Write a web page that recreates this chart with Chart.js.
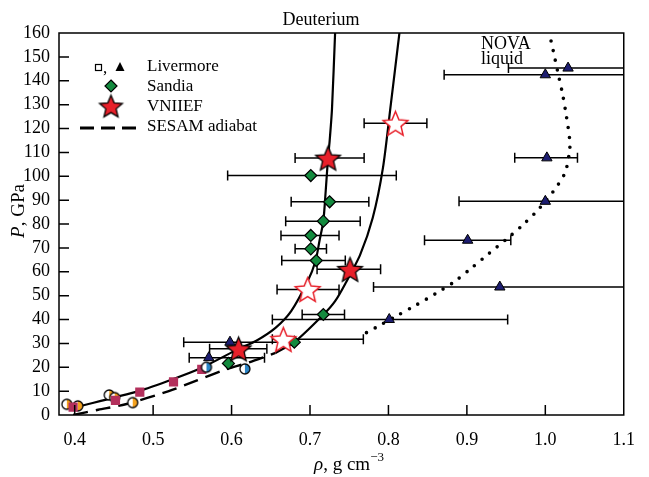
<!DOCTYPE html>
<html><head><meta charset="utf-8">
<script src="https://cdn.jsdelivr.net/npm/chart.js@4"></script>
<style>html,body{margin:0;padding:0;background:#fff}#wrap{width:649px;height:477px}</style>
</head><body><div id="wrap"><canvas id="c"></canvas></div>
<script>
const FONT = '"Liberation Serif", "DejaVu Serif", serif';

// axis ticks
const xTicks = [0.4, 0.5, 0.6, 0.7, 0.8, 0.9, 1.0, 1.1];

// Livermore (triangles): density, pressure, error bar low / high
const livRho = [1.029, 1.0, 1.002, 1.0, 0.901, 0.942, 0.801, 0.598, 0.571];
const livP   = [145.3, 142.5, 107.7, 89.5, 73.2, 53.6, 40.0, 30.5, 24.0];
const livLo  = [0.953, 0.871, 0.961, 0.890, 0.846, 0.781, 0.652, 0.539, 0.546];
const livHi  = [1.150, 1.150, 1.041, 1.150, 0.956, 1.150, 0.952, 0.659, 0.642];

// Sandia (diamonds)
const sanRho = [0.701, 0.725, 0.717, 0.701, 0.701, 0.708, 0.717, 0.680, 0.596];
const sanP   = [100.3, 89.3, 81.2, 75.2, 69.6, 64.7, 42.1, 30.5, 21.6];
const sanLo  = [0.595, 0.676, 0.669, 0.663, 0.681, 0.664, 0.690, null, null];
const sanHi  = [0.810, 0.775, 0.764, 0.737, 0.721, 0.745, 0.744, null, null];

// VNIIEF filled stars
const vnRho = [0.723, 0.751, 0.609];
const vnP   = [107.6, 61.0, 27.7];
const vnLo  = [0.681, 0.709, 0.572];
const vnHi  = [0.769, 0.790, 0.645];

// VNIIEF open stars
const voRho = [0.809, 0.697, 0.666];
const voP   = [122.2, 52.6, 31.7];
const voLo  = [0.769, 0.658, 0.652];
const voHi  = [0.849, 0.737, 0.768];

// low pressure data
const sqRho = [0.398, 0.452, 0.483, 0.526, 0.562];
const sqP   = [3.3, 6.1, 9.6, 13.9, 19.1];
const orRho = [0.390, 0.404, 0.444, 0.451, 0.474];
const orP   = [4.5, 3.8, 8.4, 7.3, 5.2];
const blRho = [0.568, 0.617];
const blP   = [20.0, 19.3];

// curves
const c1Rho = [0.400, 0.481, 0.525, 0.562, 0.609, 0.631, 0.656, 0.676, 0.697, 0.707, 0.712, 0.717, 0.720, 0.723, 0.725, 0.728, 0.732];
const c1P   = [3.1, 10.0, 15.0, 19.8, 27.7, 31.0, 36.5, 43.5, 56.0, 64.4, 72.8, 81.2, 93.7, 107.7, 114.6, 128.0, 160.0];
const c2Rho = [0.656, 0.680, 0.717, 0.732, 0.745, 0.764, 0.780, 0.793, 0.803, 0.814];
const c2P   = [26.0, 30.5, 42.0, 47.7, 55.0, 67.2, 82.6, 103.5, 130.0, 160.0];
const sesRho = [0.398, 0.430, 0.465, 0.520, 0.556, 0.590, 0.622, 0.656];
const sesP   = [0.0, 2.2, 4.5, 10.0, 14.5, 18.8, 22.0, 26.0];
const novaRho = [0.772, 0.786, 0.810, 0.835, 0.860, 0.884, 0.906, 0.928, 0.950, 0.972, 0.992, 1.010, 1.025, 1.031, 1.031, 1.027, 1.022, 1.016, 1.010, 1.005];
const novaP   = [34.5, 37.0, 41.4, 46.0, 50.8, 55.8, 61.6, 67.6, 73.5, 79.8, 86.4, 93.6, 101.4, 110.8, 115.5, 124.9, 134.4, 143.5, 152.7, 160.0];

const pts = (xs, ys) => xs.map((x, i) => ({x: x, y: ys[i]}));

function starImg(r, fill, stroke, lw) {
  const c = document.createElement('canvas');
  const s = Math.ceil(2 * r + lw * 2 + 4);
  c.width = s; c.height = s;
  const g = c.getContext('2d');
  g.translate(s / 2, s / 2 + r * 0.1);
  g.beginPath();
  for (let i = 0; i < 10; i++) {
    const rr = i % 2 ? r * 0.45 : r;
    const a = -Math.PI / 2 + i * Math.PI / 5;
    g.lineTo(rr * Math.cos(a), rr * Math.sin(a));
  }
  g.closePath();
  g.fillStyle = fill; g.fill();
  g.lineWidth = lw; g.strokeStyle = stroke; g.stroke();
  return c;
}
function halfImg(r, col) {
  const c = document.createElement('canvas');
  const s = Math.ceil(2 * r + 4);
  c.width = s; c.height = s;
  const g = c.getContext('2d');
  g.translate(s / 2, s / 2);
  g.beginPath(); g.arc(0, 0, r, 0, Math.PI * 2); g.fillStyle = '#fff'; g.fill();
  g.beginPath(); g.moveTo(0, -r); g.arc(0, 0, r, -Math.PI / 2, Math.PI / 2); g.closePath(); g.fillStyle = col; g.fill();
  g.beginPath(); g.arc(0, 0, r, 0, Math.PI * 2); g.lineWidth = 1.3; g.strokeStyle = '#000'; g.stroke();
  return c;
}
const starRed = starImg(13, '#e8202a', '#000', 1.3);
const starOpen = starImg(13, '#fff', '#e8202a', 1.5);
const starLeg = starImg(12, '#e8202a', '#000', 1.3);
const halfOr = halfImg(5, '#f5a21e');
const halfBl = halfImg(5, '#2b86c8');

const errSets = [
  [livRho, livP, livLo, livHi], [sanRho, sanP, sanLo, sanHi],
  [vnRho, vnP, vnLo, vnHi], [voRho, voP, voLo, voHi]
];

const decor = {
  id: 'decor',
  beforeDatasetsDraw(chart) {
    const {ctx, chartArea: a, scales: {x, y}} = chart;
    ctx.save();
    ctx.beginPath(); ctx.rect(a.left, a.top, a.right - a.left, a.bottom - a.top); ctx.clip();
    ctx.strokeStyle = '#000'; ctx.lineWidth = 1.5;
    for (const [xs, ys, lo, hi] of errSets) {
      xs.forEach((v, i) => {
        if (lo[i] == null) return;
        const py = y.getPixelForValue(ys[i]);
        const p0 = x.getPixelForValue(lo[i]), p1 = x.getPixelForValue(hi[i]);
        ctx.beginPath();
        ctx.moveTo(p0, py); ctx.lineTo(p1, py);
        ctx.moveTo(p0, py - 5); ctx.lineTo(p0, py + 5);
        ctx.moveTo(p1, py - 5); ctx.lineTo(p1, py + 5);
        ctx.stroke();
      });
    }
    ctx.restore();
  },
  afterDraw(chart) {
    const {ctx, chartArea: a, scales: {x, y}} = chart;
    ctx.save();
    ctx.strokeStyle = '#000'; ctx.lineWidth = 1.5;
    ctx.strokeRect(a.left, a.top, a.right - a.left, a.bottom - a.top);
    ctx.beginPath();
    xTicks.forEach(v => {
      const px = x.getPixelForValue(v);
      if (px > a.left + 2 && px < a.right - 2) { ctx.moveTo(px, a.bottom); ctx.lineTo(px, a.bottom - 10); }
    });
    y.ticks.forEach(t => {
      const py = y.getPixelForValue(t.value);
      if (py > a.top + 2 && py < a.bottom - 2) { ctx.moveTo(a.left, py); ctx.lineTo(a.left + 10, py); }
    });
    ctx.stroke();

    ctx.fillStyle = '#000';
    ctx.textBaseline = 'middle';
    // title
    ctx.font = '18px ' + FONT; ctx.textAlign = 'center';
    ctx.fillText('Deuterium', 321, 20);
    // x title
    ctx.textAlign = 'left';
    const xt = [['italic 19px ' + FONT, 'ρ', 0], ['19px ' + FONT, ', g cm', 0], ['13px ' + FONT, '−3', -7]];
    let w = 0;
    xt.forEach(p => { ctx.font = p[0]; w += ctx.measureText(p[1]).width; });
    let cx = 349 - w / 2;
    xt.forEach(p => { ctx.font = p[0]; ctx.fillText(p[1], cx, 465 + p[2]); cx += ctx.measureText(p[1]).width; });
    // y title
    ctx.save();
    ctx.translate(19, 211); ctx.rotate(-Math.PI / 2);
    const yt = [['italic 19px ' + FONT, 'P'], ['19px ' + FONT, ', GPa']];
    w = 0;
    yt.forEach(p => { ctx.font = p[0]; w += ctx.measureText(p[1]).width; });
    cx = -w / 2;
    yt.forEach(p => { ctx.font = p[0]; ctx.fillText(p[1], cx, 0); cx += ctx.measureText(p[1]).width; });
    ctx.restore();

    // NOVA label
    ctx.font = '18px ' + FONT;
    ctx.textBaseline = 'alphabetic';
    ctx.fillText('NOVA', 481, 49);
    ctx.fillText('liquid', 481, 64);

    // legend
    ctx.textBaseline = 'middle';
    ctx.font = '17px ' + FONT;
    ctx.fillText('Livermore', 147, 67);
    ctx.fillText('Sandia', 147, 87);
    ctx.fillText('VNIIEF', 147, 107);
    ctx.fillText('SESAM adiabat', 147, 127);
    ctx.lineWidth = 1.2;
    ctx.strokeRect(95.5, 64.5, 6, 6);
    ctx.fillText(',', 103, 69);
    ctx.beginPath(); ctx.moveTo(120, 62); ctx.lineTo(124.5, 71); ctx.lineTo(115.5, 71); ctx.closePath(); ctx.fill();
    ctx.beginPath(); ctx.moveTo(111, 80); ctx.lineTo(117, 86); ctx.lineTo(111, 92); ctx.lineTo(105, 86); ctx.closePath();
    ctx.fillStyle = '#138a3e'; ctx.fill(); ctx.lineWidth = 1.2; ctx.stroke();
    ctx.drawImage(starLeg, 111 - starLeg.width / 2, 106 - starLeg.height / 2);
    ctx.beginPath(); ctx.setLineDash([14, 7]); ctx.lineWidth = 3;
    ctx.moveTo(80, 128); ctx.lineTo(137, 128); ctx.stroke();
    ctx.restore();
  }
};

const line = (xs, ys, extra) => Object.assign({
  data: pts(xs, ys), showLine: true, pointRadius: 0, borderColor: '#000',
  borderWidth: 2.2, tension: 0.25, fill: false
}, extra);

new Chart(document.getElementById('c'), {
  type: 'scatter',
  data: {datasets: [
    {label: 'VNIIEF', data: pts(vnRho, vnP), pointStyle: starRed},
    {label: 'VNIIEF open', data: pts(voRho, voP), pointStyle: starOpen},
    {label: 'Livermore', data: pts(livRho, livP), pointStyle: 'triangle', pointRadius: 6,
      backgroundColor: '#1d1d70', borderColor: '#000', borderWidth: 1},
    {label: 'Sandia', data: pts(sanRho, sanP), pointStyle: 'rectRot', pointRadius: 6,
      backgroundColor: '#138a3e', borderColor: '#000', borderWidth: 1.2},
    {label: 'blue', data: pts(blRho, blP), pointStyle: halfBl},
    {label: 'squares', data: pts(sqRho, sqP), pointStyle: 'rect', pointRadius: 6.5,
      backgroundColor: '#b3305c', borderWidth: 0},
    {label: 'orange', data: pts(orRho, orP), pointStyle: halfOr},
    line(c1Rho, c1P, {label: 'curve 1'}),
    line(c2Rho, c2P, {label: 'curve 2'}),
    line(sesRho, sesP, {label: 'SESAM adiabat', borderDash: [15, 8], borderWidth: 2.4}),
    line(novaRho, novaP, {label: 'NOVA liquid', borderDash: [0, 9.8], borderCapStyle: 'round', borderWidth: 3.6, tension: 0.3})
  ]},
  options: {
    responsive: true, maintainAspectRatio: false, animation: false,
    layout: {padding: {top: 33, right: 13, left: 0, bottom: 0}},
    plugins: {legend: {display: false}, tooltip: {enabled: false}},
    scales: {
      x: {
        type: 'linear', min: 0.38, max: 1.1,
        afterBuildTicks: s => { s.ticks = xTicks.map(v => ({value: v})); },
        afterFit: s => { s.height = 62; },
        grid: {display: false, drawTicks: false}, border: {display: false},
        ticks: {autoSkip: false, maxRotation: 0, padding: 14, color: '#000',
          font: {family: FONT, size: 18}, callback: v => v.toFixed(1)}
      },
      y: {
        type: 'linear', min: 0, max: 160,
        afterFit: s => { s.width = 59; },
        grid: {display: false, drawTicks: false}, border: {display: false},
        ticks: {stepSize: 10, autoSkip: false, padding: 9, color: '#000', font: {family: FONT, size: 18}}
      }
    }
  },
  plugins: [decor]
});
</script>
</body></html>
